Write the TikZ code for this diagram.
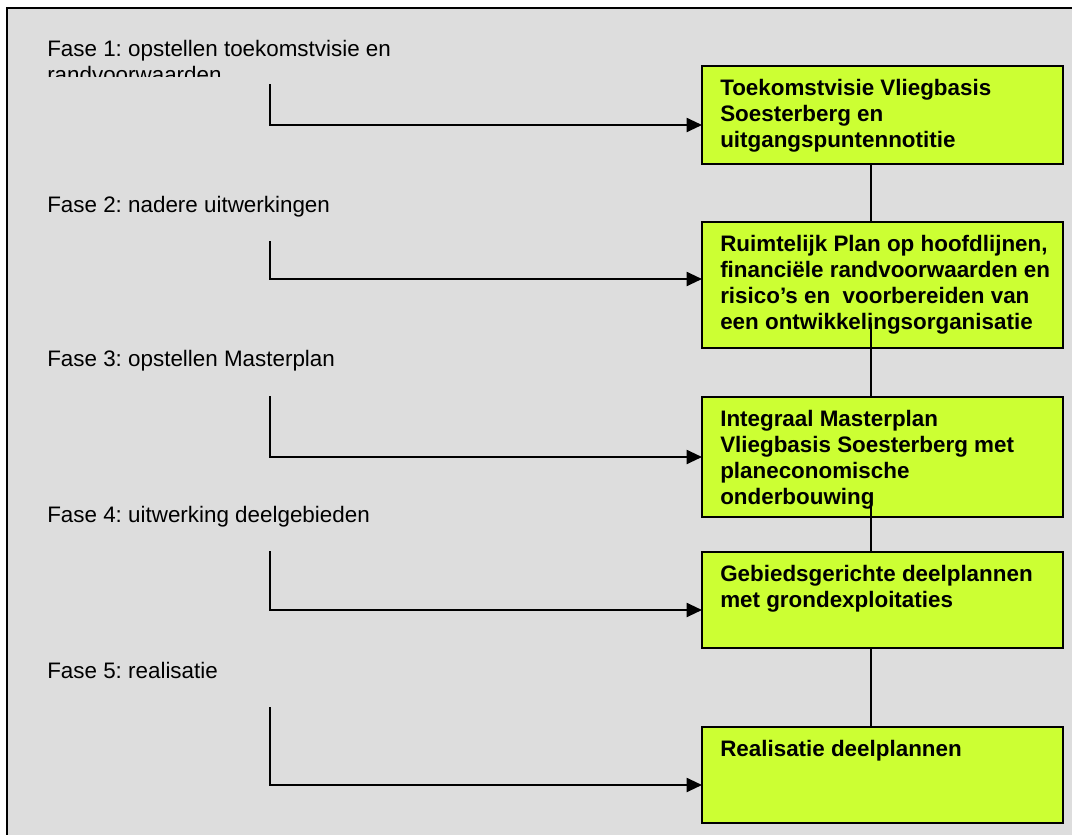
\documentclass[tikz,border=0pt]{standalone}
\usepackage{fontspec}
\setmainfont{Liberation Sans}
\usetikzlibrary{arrows.meta, calc}
\definecolor{planbg}{HTML}{DDDDDD}
\definecolor{planlime}{HTML}{CCFF33}
\frenchspacing
\begin{document}
\begin{tikzpicture}[
		x = 0.75 pt, y = -0.75 pt,
		fase/.style = {anchor = base west, inner sep = 0 pt, font = \fontsize{16.8}{19.5}\selectfont},
		phasebox/.style = {draw, line width = 1.5 pt, fill = planlime, anchor = north west, inner sep = 0 pt, outer sep = 0 pt, minimum width = 270.75 pt},
		boxtext/.style = {anchor = north west, inner sep = 0 pt, align = left, font = \fontsize{16.8}{19.7}\selectfont\bfseries},
		link/.style = {line width = 1.5 pt},
		arr/.style = {line width = 1.5 pt, -{Triangle[length=11.5pt, width=10.5pt]}}
	]
		\useasboundingbox (0,0) rectangle (1072,835);
		\clip (0,0) rectangle (1072,835);
		\fill[white] (0,0) rectangle (1072,835);
		\draw[line width = 1.5 pt, fill = planbg] (7,8) rectangle (1090,850);
		\begin{scope}
			\clip (0,0) rectangle (690,76);
			\node[fase, anchor = north west, align = left] (f1) at (47,39.7) {Fase 1: opstellen toekomstvisie en\\randvoorwaarden};
		\end{scope}
		\node[fase] (f2) at (47,212.7) {Fase 2: nadere uitwerkingen};
		\node[fase] (f3) at (47,366.7) {Fase 3: opstellen Masterplan};
		\node[fase] (f4) at (47,522.7) {Fase 4: uitwerking deelgebieden};
		\node[fase] (f5) at (47,678) {Fase 5: realisatie};
		\node[phasebox, minimum height = 73.5 pt] (b1) at (702,66) {};
		\node[phasebox, minimum height = 94.5 pt] (b2) at (702,222) {};
		\node[phasebox, minimum height = 90 pt] (b3) at (702,397) {};
		\node[phasebox, minimum height = 72 pt] (b4) at (702,552) {};
		\node[phasebox, minimum height = 72 pt] (b5) at (702,727) {};
		\node[boxtext] (t1) at ([xshift = 13.5 pt, yshift = -9.5 pt]b1.north west) {Toekomstvisie Vliegbasis\\Soesterberg en\\uitgangspuntennotitie};
		\node[boxtext] (t2) at ([xshift = 13.5 pt, yshift = -9.5 pt]b2.north west) {Ruimtelijk Plan op hoofdlijnen,\\financiële randvoorwaarden en\\risico’s en \ voorbereiden van\\een ontwikkelingsorganisatie};
		\node[boxtext] (t3) at ([xshift = 13.5 pt, yshift = -9.5 pt]b3.north west) {Integraal Masterplan\\Vliegbasis Soesterberg met\\planeconomische\\onderbouwing};
		\node[boxtext] (t4) at ([xshift = 13.5 pt, yshift = -9.5 pt]b4.north west) {Gebiedsgerichte deelplannen\\met grondexploitaties};
		\node[boxtext] (t5) at ([xshift = 13.5 pt, yshift = -9.5 pt]b5.north west) {Realisatie deelplannen};
		\coordinate (spine) at (871,0);
		\draw[link] (b1.south -| spine) -- (b2.north -| spine);
		\draw[link] ($(b2.south -| spine) + (0,-25)$) -- (b3.north -| spine);
		\draw[link] ($(b3.south -| spine) + (0,-10)$) -- (b4.north -| spine);
		\draw[link] (b4.south -| spine) -- (b5.north -| spine);
		\coordinate (e1) at (270,84);
		\coordinate (e2) at (270,241);
		\coordinate (e3) at (270,396);
		\coordinate (e4) at (270,551);
		\coordinate (e5) at (270,707);
		\draw[arr] (e1) |- ([yshift = -7.5 pt]b1.west);
		\draw[arr] (e2) |- ([yshift = 4.5 pt]b2.west);
		\draw[arr] (e3) |- (b3.west);
		\draw[arr] (e4) |- ([yshift = -7.5 pt]b4.west);
		\draw[arr] (e5) |- ([yshift = -7.5 pt]b5.west);
\end{tikzpicture}
\end{document}
